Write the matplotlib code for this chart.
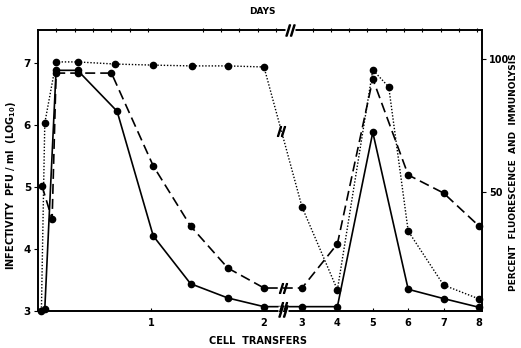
import numpy as np
import matplotlib
matplotlib.use("Agg")
import matplotlib.pyplot as plt
import matplotlib.transforms as mtransforms

# ---------------- data ----------------
# solid line: infectivity, log10 PFU/ml (left axis)
solid_x = [0.06, 0.16, 0.35, 0.70, 1.02, 1.35, 1.68, 2.0, 3.0, 4.0, 5.0, 6.0, 7.0, 8.0]
solid_log = [3.03, 6.88, 6.88, 6.22, 4.21, 3.44, 3.21, 3.07, 3.07, 3.07, 5.88, 3.35, 3.20, 3.06]

# dashed line: percent (right axis)
dashed_x = [0.035, 0.125, 0.16, 0.35, 0.65, 1.02, 1.35, 1.68, 2.0, 3.0, 4.0, 5.0, 6.0, 7.0, 8.0]
dashed_pct = [52.3, 39.8, 94.7, 94.7, 94.7, 59.8, 37.2, 21.4, 13.9, 13.9, 30.5, 92.5, 56.4, 49.6, 37.2]

# dotted line: percent (right axis)
dotted_x = [0.03, 0.06, 0.16, 0.35, 0.68, 1.02, 1.36, 1.68, 2.0, 3.0, 4.0, 5.0, 5.45, 6.0, 7.0, 8.0]
dotted_pct = [5.3, 75.9, 98.9, 98.9, 98.1, 97.7, 97.4, 97.4, 97.0, 44.4, 13.2, 95.9, 89.5, 35.3, 15.0, 9.8]

bottom_ticks = [1, 2, 3, 4, 5, 6, 7, 8]
bottom_labels = ["1", "2", "3", "4", "5", "6", "7", "8"]
left_ticks = [3, 4, 5, 6, 7]
right_ticks = [50, 100]

# piecewise (broken) x scale
bp_t = [-100, 0, 2, 3, 8, 100]
bp_u = [-11300, 0, 226, 264, 441, 441 + 35.4 * 92]


def fwd(t):
    return np.interp(t, bp_t, bp_u)


def inv(u):
    return np.interp(u, bp_u, bp_t)


plt.rcParams['font.family'] = ['DejaVu Sans']

fig = plt.figure(figsize=(5.21, 3.48), dpi=100)
ax = fig.add_axes([38 / 521, 1 - 311 / 348, 444 / 521, 281 / 348])
ax.set_xscale('function', functions=(fwd, inv))
ax.set_xlim(0, 8.085)
ax.set_ylim(3.0, 7.53)

ax2 = ax.twinx()
ax2.set_ylim(5.26, 110.9)

mk = dict(marker='o', markersize=4.5, markerfacecolor='black', markeredgecolor='black', clip_on=False)

ax.plot(solid_x, solid_log, color='black', lw=1.2, linestyle='-', **mk)
ax2.plot(dashed_x, dashed_pct, color='black', lw=1.2, linestyle=(0, (6, 3)), **mk)
ax2.plot(dotted_x, dotted_pct, color='black', lw=1.0, linestyle=(0, (1, 1.3)), **mk)

# axes styling
for a in (ax, ax2):
    for s in a.spines.values():
        s.set_linewidth(1.2)
        s.set_color('black')

ax.set_xticks(bottom_ticks)
ax.set_xticklabels(bottom_labels)
ax.xaxis.set_minor_locator(matplotlib.ticker.NullLocator())
ax.tick_params(axis='x', direction='in', length=2, width=0.8, labelsize=7, pad=5)
ax.set_yticks(left_ticks)
ax.tick_params(axis='y', direction='out', length=3, width=0.8, labelsize=7.5, pad=2)
ax2.set_yticks(right_ticks)
ax2.set_yticklabels(["50", "100"])
ax2.tick_params(axis='y', direction='out', length=3, width=0.8, labelsize=7, pad=2)
for lab in ax.get_xticklabels() + ax.get_yticklabels() + ax2.get_yticklabels():
    lab.set_fontweight('bold')

# top "days" axis with ticks only
top_ticks = list(np.arange(1, 7) / 3.0) + list(3 + np.arange(0, 16) / 3.0)
sec = ax.secondary_xaxis('top')
sec.set_xticks(top_ticks)
sec.set_xticklabels([])
sec.xaxis.set_minor_locator(matplotlib.ticker.NullLocator())
sec.tick_params(direction='inout', length=3, width=0.8)
sec.spines['top'].set_visible(False)

# axis labels
fig.text(262 / 521, 1 - 12 / 348, "DAYS", ha='center', va='center', fontsize=6.5, fontweight='bold')
fig.text(258 / 521, 1 - 341 / 348, "CELL  TRANSFERS", ha='center', va='center', fontsize=7, fontweight='bold')
fig.text(11 / 521, 1 - 185 / 348, r"INFECTIVITY  PFU / ml  (LOG$_{\mathbf{10}}$)", ha='center', va='center',
         rotation=90, fontsize=7, fontweight='bold')
fig.text(514 / 521, 1 - 172 / 348, "PERCENT  FLUORESCENCE  AND  IMMUNOLYSIS", ha='center', va='center',
         rotation=90, fontsize=6.5, fontweight='bold')

# break marks (drawn as markers)
bx = mtransforms.blended_transform_factory(ax.transData, ax.transAxes)
for xb, yb in [(2.5, 0.0), (2.68, 1.0)]:
    ax2.plot([xb], [yb], transform=bx, marker='s', markersize=7, markerfacecolor='white',
             markeredgecolor='none', clip_on=False, zorder=5)
    ax2.plot([xb], [yb], transform=bx, marker=r'$//$', markersize=8, color='black',
             clip_on=False, zorder=6)
ax2.plot([2.5], [3.07], transform=ax.transData, marker=r'$//$', markersize=7, color='black', zorder=6)
ax2.plot([2.5], [13.9], marker=r'$//$', markersize=7, color='black', zorder=6)
ax2.plot([2.45], [73.0], marker=r'$//$', markersize=7, color='black', zorder=6)

fig.savefig("out.png", dpi=100)
